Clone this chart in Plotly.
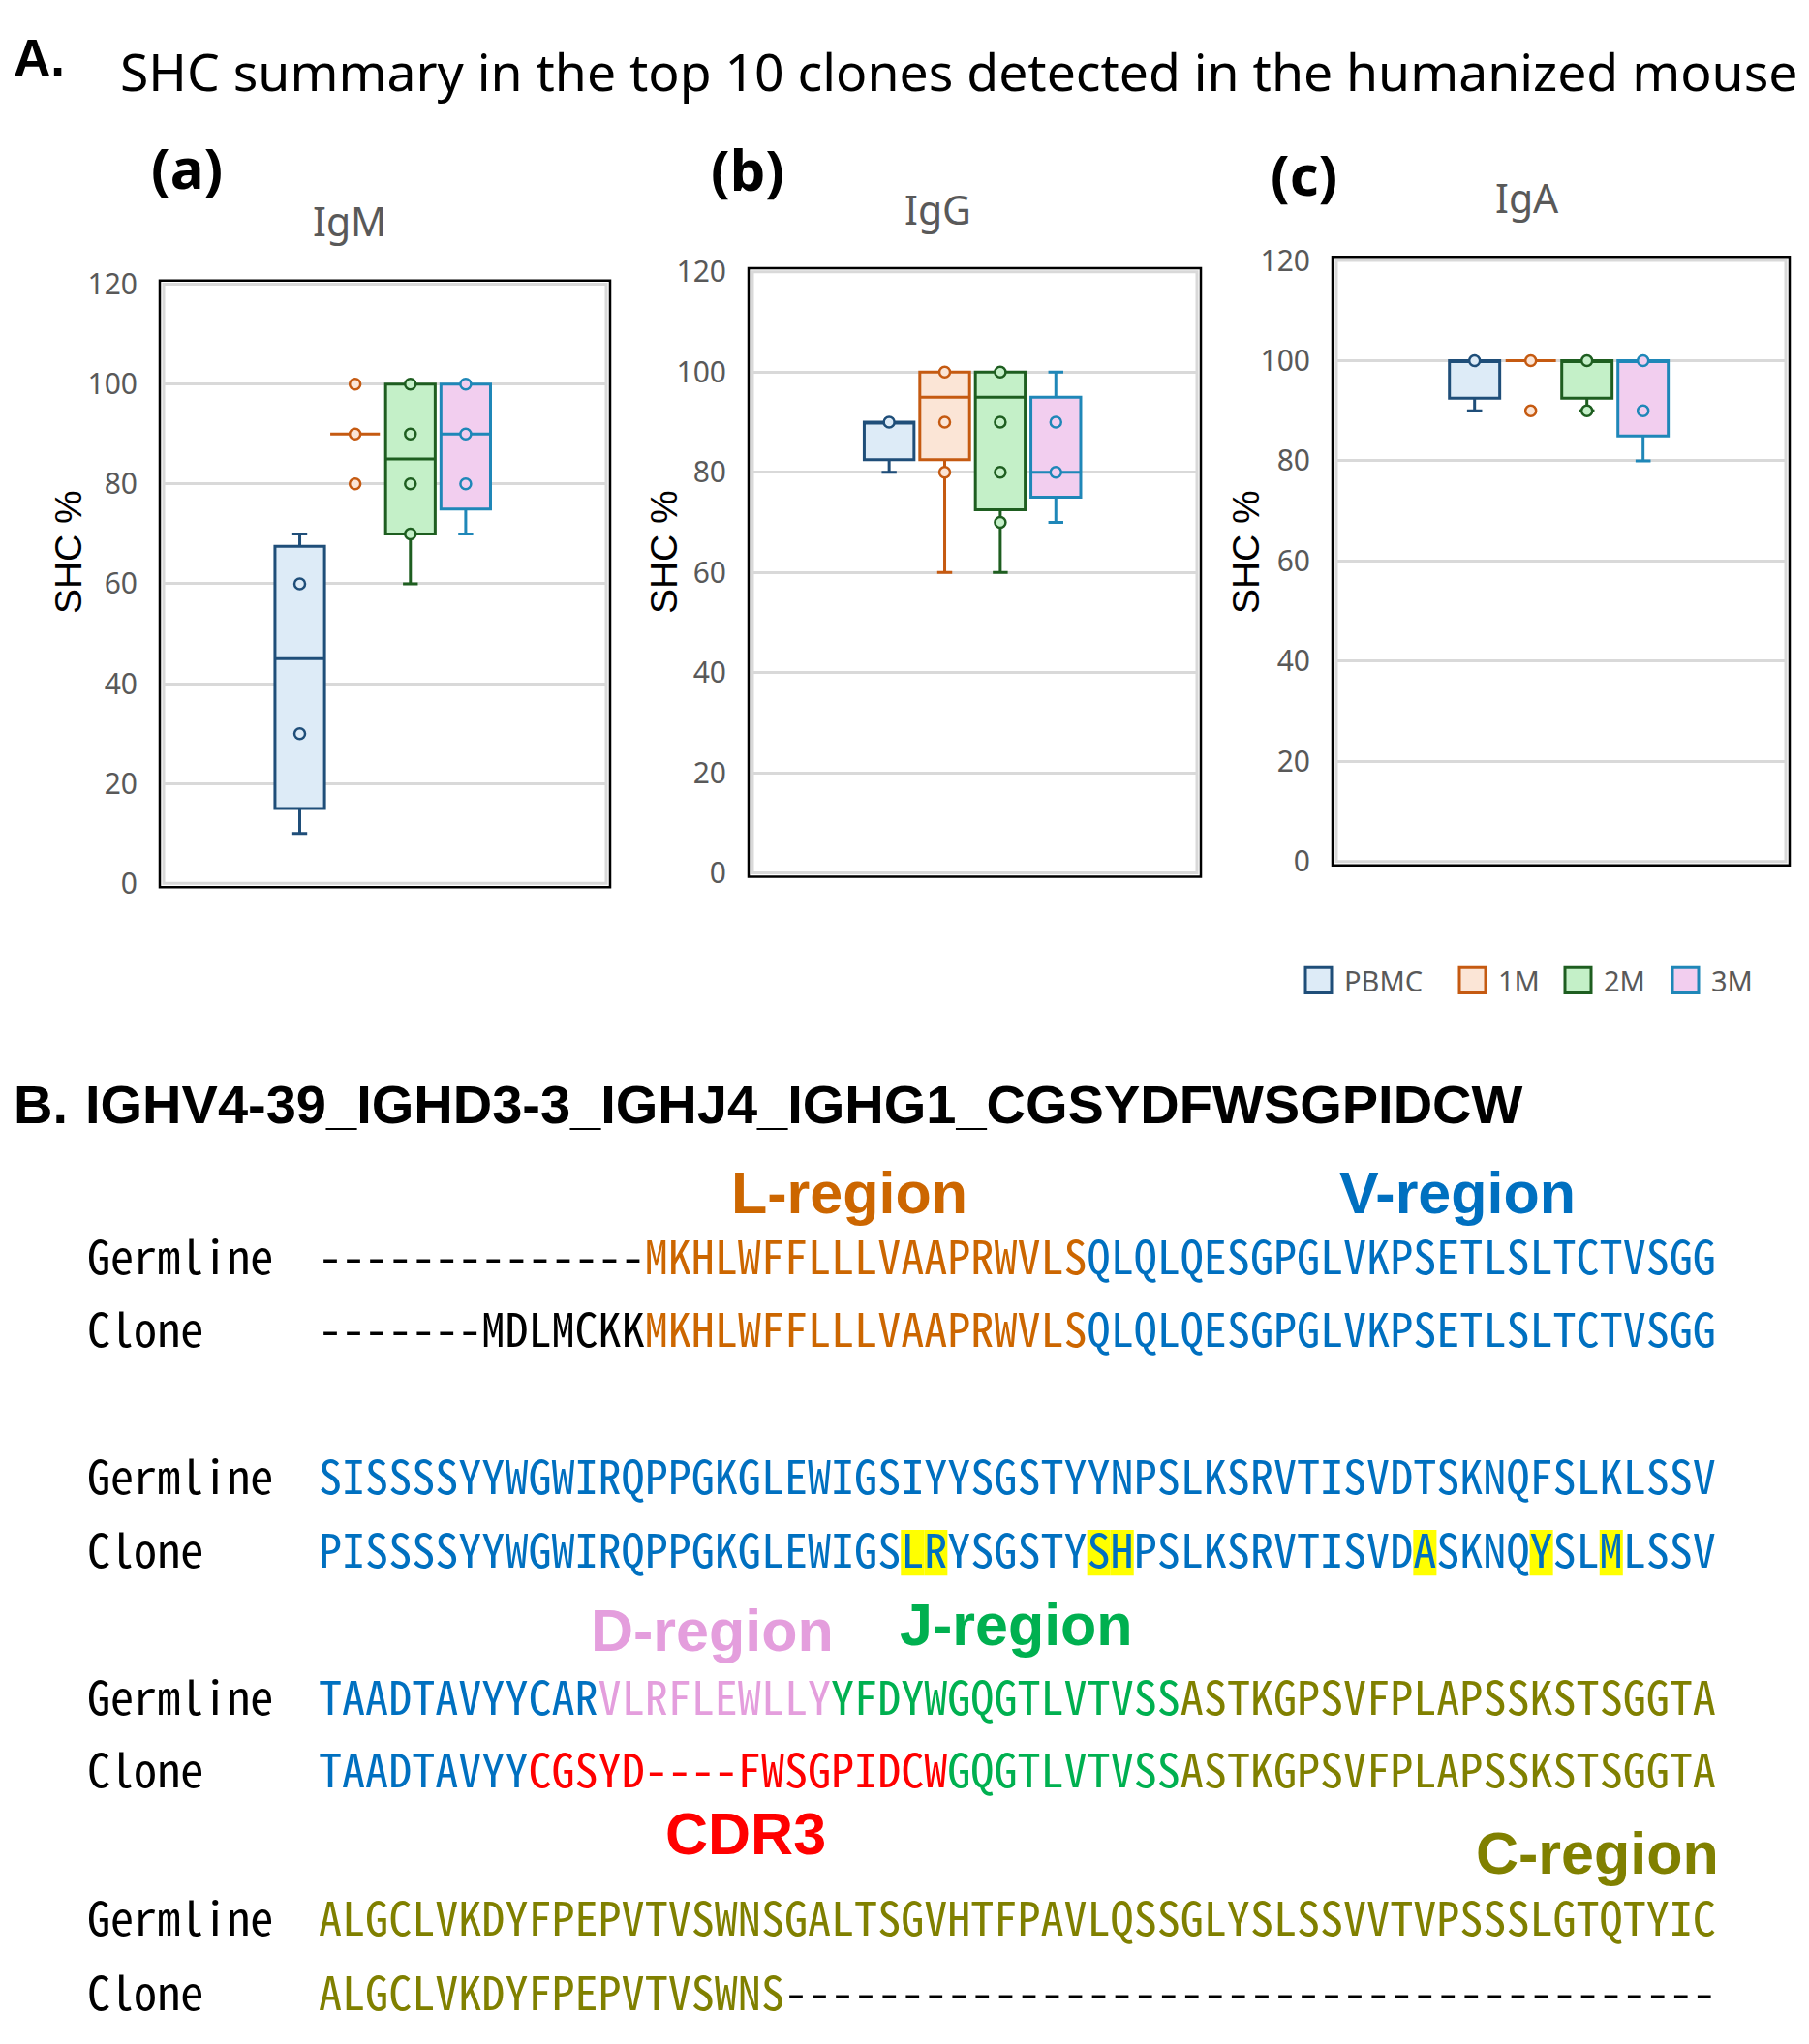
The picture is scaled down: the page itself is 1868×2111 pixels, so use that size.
import plotly.graph_objects as go

W, H = 1868, 2111

# ---------------- data ----------------
groups = ["PBMC", "1M", "2M", "3M"]
isotypes = ["IgM", "IgG", "IgA"]
panel_tags = ["(a)", "(b)", "(c)"]

# box statistics per group (PBMC, 1M, 2M, 3M)
igm_lower = [10, 90, 60, 70]
igm_q1 = [15, 90, 70, 75]
igm_median = [45, 90, 85, 90]
igm_q3 = [67.5, 90, 100, 100]
igm_upper = [70, 90, 100, 100]
igm_points = [[60, 30], [100, 90, 80], [100, 90, 80, 70], [100, 90, 80]]

igg_lower = [80, 60, 60, 70]
igg_q1 = [82.5, 82.5, 72.5, 75]
igg_median = [90, 95, 95, 80]
igg_q3 = [90, 100, 100, 95]
igg_upper = [90, 100, 100, 100]
igg_points = [[90], [100, 90, 80], [100, 90, 80, 70], [90, 80]]

iga_lower = [90, 100, 90, 80]
iga_q1 = [92.5, 100, 92.5, 85]
iga_median = [100, 100, 100, 100]
iga_q3 = [100, 100, 100, 100]
iga_upper = [100, 100, 100, 100]
iga_points = [[100], [100, 90], [100, 90], [100, 90]]

y_ticks = [0, 20, 40, 60, 80, 100, 120]

# sequence alignment (segments tagged by region)
germline_1 = [("--------------", "gap"), ("MKHLWFFLLLVAAPRWVLS", "L"), ("QLQLQESGPGLVKPSETLSLTCTVSGG", "V")]
clone_1 = [("-------", "gap"), ("MDLMCKK", "gap"), ("MKHLWFFLLLVAAPRWVLS", "L"), ("QLQLQESGPGLVKPSETLSLTCTVSGG", "V")]
germline_2 = [("SISSSSYYWGWIRQPPGKGLEWIGSIYYSGSTYYNPSLKSRVTISVDTSKNQFSLKLSSV", "V")]
clone_2 = [("PISSSSYYWGWIRQPPGKGLEWIGSLRYSGSTYSHPSLKSRVTISVDASKNQYSLMLSSV", "V")]
germline_3 = [("TAADTAVYYCAR", "V"), ("VLRFLEWLLY", "D"), ("YFDYWGQGTLVTVSS", "J"), ("ASTKGPSVFPLAPSSKSTSGGTA", "C")]
clone_3 = [("TAADTAVYY", "V"), ("CGSYD----FWSGPIDCW", "CDR3"), ("GQGTLVTVSS", "J"), ("ASTKGPSVFPLAPSSKSTSGGTA", "C")]
germline_4 = [("ALGCLVKDYFPEPVTVSWNSGALTSGVHTFPAVLQSSGLYSLSSVVTVPSSSLGTQTYIC", "C")]
clone_4 = [("ALGCLVKDYFPEPVTVSWNS", "C"), ("----------------------------------------", "gap")]
alignment_rows = [("Germline", germline_1), ("Clone", clone_1), ("Germline", germline_2), ("Clone", clone_2),
                  ("Germline", germline_3), ("Clone", clone_3), ("Germline", germline_4), ("Clone", clone_4)]
# mutated residues highlighted in the clone of block 2 (0-based residue index)
highlight_row = 3
highlight_idx = [25, 26, 33, 34, 47, 52, 55]

region_labels = ["L-region", "V-region", "D-region", "J-region", "CDR3", "C-region"]
region_keys = ["L", "V", "D", "J", "CDR3", "C"]

# ---------------- style ----------------
line_colors = ["#1F4E79", "#C55A11", "#1E5E20", "#1F87B8"]
fill_colors = ["#DDEBF7", "#FBE5D6", "#C4F0C8", "#F2CEEF"]
region_colors = {"gap": "#000000", "L": "#CC6600", "V": "#0070C0", "D": "#E49EDD",
                 "J": "#00B050", "CDR3": "#FF0000", "C": "#808000"}
GRID = "#D9D9D9"
GRAY_TXT = "#595959"
BOLD_FONT = "Liberation Sans"

# panel plot areas in px: left, right, top (y=120), bottom (y=0)
panel_px = [(169, 626, 278, 909), (777, 1236, 265, 898), (1380, 1844, 253, 886)]
GROUP_STEP = 0.125
BOX_W = 0.112


def fx(p):
    return p / W


def fy(p):
    return 1 - p / H


fig = go.Figure()
panel_stats = [
    (igm_lower, igm_q1, igm_median, igm_q3, igm_upper, igm_points),
    (igg_lower, igg_q1, igg_median, igg_q3, igg_upper, igg_points),
    (iga_lower, iga_q1, iga_median, iga_q3, iga_upper, iga_points),
]
layout_axes = {}
shapes = []
annotations = []

for p, (lo, q1, md, q3, up, pts) in enumerate(panel_stats):
    sfx = "" if p == 0 else str(p + 1)
    for g, name in enumerate(groups):
        pos = (g - 1.5) * GROUP_STEP
        fig.add_trace(go.Box(
            x=[pos], q1=[q1[g]], median=[md[g]], q3=[q3[g]],
            lowerfence=[lo[g]], upperfence=[up[g]], width=BOX_W,
            name=name, line=dict(color=line_colors[g], width=3),
            fillcolor=fill_colors[g], whiskerwidth=0.3, boxpoints=False,
            showlegend=False, xaxis="x" + sfx, yaxis="y" + sfx))
        fig.add_trace(go.Scatter(
            x=[pos] * len(pts[g]), y=pts[g], mode="markers", name=name,
            marker=dict(symbol="circle", size=11, color=fill_colors[g],
                        line=dict(color=line_colors[g], width=2.5)),
            showlegend=False, xaxis="x" + sfx, yaxis="y" + sfx))
    L, R, T, B = panel_px[p]
    layout_axes["xaxis" + sfx] = dict(domain=[fx(L), fx(R)], range=[-0.495, 0.505], visible=False,
                                      anchor="y" + sfx, fixedrange=True)
    layout_axes["yaxis" + sfx] = dict(domain=[fy(B), fy(T)], range=[0, 120], tickvals=y_ticks,
                                      showgrid=True, gridcolor=GRID, gridwidth=2.5, zeroline=False,
                                      showline=False, ticks="outside", ticklen=20,
                                      tickcolor="rgba(0,0,0,0)",
                                      tickfont=dict(family="Noto Sans", size=30, color=GRAY_TXT),
                                      anchor="x" + sfx, fixedrange=True)
    # frame: gray inner border + black outer border
    shapes.append(dict(type="rect", xref="paper", yref="paper", x0=fx(L), x1=fx(R), y0=fy(B), y1=fy(T),
                       line=dict(color=GRID, width=3)))
    shapes.append(dict(type="rect", xref="paper", yref="paper", x0=fx(L - 4), x1=fx(R + 4),
                       y0=fy(B + 4), y1=fy(T - 4), line=dict(color="#000000", width=2.5)))


def ann(text, x, y, size, color="#000000", family="Noto Sans", weight="normal",
        xanchor="left", angle=0):
    annotations.append(dict(text=text, x=fx(x), y=fy(y), xref="paper", yref="paper",
                            xanchor=xanchor, yanchor="middle", showarrow=False, textangle=angle,
                            borderpad=0, borderwidth=0,
                            font=dict(family=family, size=size, color=color, weight=weight)))


# Part A headings
ann("A.", 14, 39, 53, family=BOLD_FONT, weight="bold")
ann("SHC summary in the top 10 clones detected in the humanized mouse", 124, 54, 53.5)
tag_pos = [(193, 154), (772, 157), (1346, 162)]
iso_pos = [(361, 211), (968, 199), (1577, 187)]
title_x = [70, 685, 1286]
for p in range(3):
    ann(panel_tags[p], tag_pos[p][0], tag_pos[p][1], 58, weight="bold", xanchor="center")
    ann(isotypes[p], iso_pos[p][0], iso_pos[p][1], 41, color=GRAY_TXT, xanchor="center")
    ann("SHC %", title_x[p], 560, 39, family="Liberation Sans", xanchor="center", angle=-90)

# manual legend
legend_x = [1348, 1507, 1616, 1727]
LEG_Y, LEG_S = 1011, 27
for g, name in enumerate(groups):
    x0 = legend_x[g]
    shapes.append(dict(type="rect", xref="paper", yref="paper", x0=fx(x0), x1=fx(x0 + LEG_S),
                       y0=fy(LEG_Y + LEG_S / 2), y1=fy(LEG_Y - LEG_S / 2),
                       fillcolor=fill_colors[g], line=dict(color=line_colors[g], width=3)))
    ann(name, x0 + LEG_S + 13, LEG_Y, 29, color=GRAY_TXT)

# Part B
ann("B.", 14, 1142, 56, family=BOLD_FONT, weight="bold")
ann("IGHV4-39_IGHD3-3_IGHJ4_IGHG1_CGSYDFWSGPIDCW", 88, 1142, 56, family=BOLD_FONT, weight="bold")

SEQ_FONT = "Noto Sans Mono CJK JP, DejaVu Sans Mono, monospace"
SEQ_SIZE = 48.1
CHAR_W = 0.5 * SEQ_SIZE
SEQ_X0 = 329
LABEL_X = 90
row_y = [1302, 1379, 1534, 1611, 1766, 1843, 1999, 2077]
TXT_DY = -3  # compensate font ascent/descent asymmetry

for r, (label, segs) in enumerate(alignment_rows):
    ann(label, LABEL_X, row_y[r] + TXT_DY, SEQ_SIZE, family=SEQ_FONT)
    html = "".join('<span style="color:%s">%s</span>' % (region_colors[k], s) for s, k in segs)
    ann(html, SEQ_X0, row_y[r] + TXT_DY, SEQ_SIZE, family=SEQ_FONT)

for i in highlight_idx:
    yc = row_y[highlight_row]
    shapes.append(dict(type="rect", xref="paper", yref="paper", layer="below",
                       x0=fx(SEQ_X0 + i * CHAR_W), x1=fx(SEQ_X0 + (i + 1) * CHAR_W),
                       y0=fy(yc + 27), y1=fy(yc - 21), fillcolor="#FFFF00", line=dict(width=0)))

region_pos = [(877, 1235, "center"), (1505, 1235, "center"), (735, 1696, "center"),
              (1049, 1690, "center"), (770, 1910, "center"), (1775, 1930, "right")]
for lbl, key, (x, y, xa) in zip(region_labels, region_keys, region_pos):
    ann(lbl, x, y, 61, color=region_colors[key], family=BOLD_FONT, weight="bold", xanchor=xa)

fig.update_layout(
    width=W, height=H, margin=dict(l=0, r=0, t=0, b=0),
    paper_bgcolor="white", plot_bgcolor="white",
    showlegend=False, shapes=shapes, annotations=annotations,
    **layout_axes)

fig.write_html("out.html", config={"displayModeBar": False},
               post_script="document.body.style.margin='0px';")
